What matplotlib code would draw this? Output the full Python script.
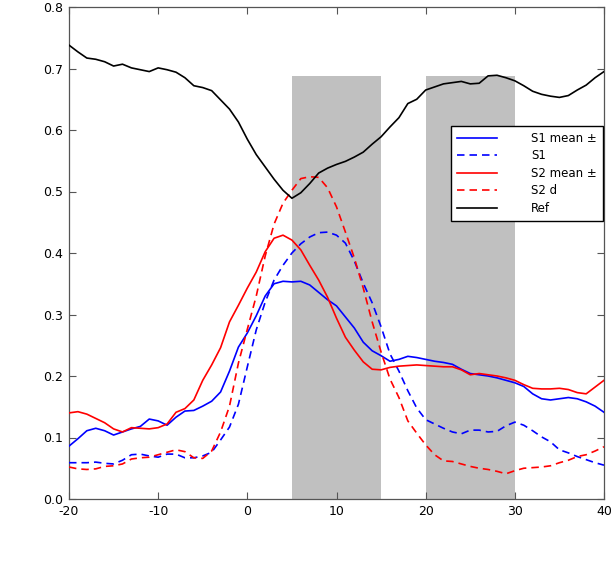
import matplotlib
matplotlib.use("Agg")
import matplotlib.pyplot as plt

# ---- data ----
x = list(range(-20, 41))

black = [0.738, 0.727, 0.717, 0.715, 0.711, 0.704, 0.707, 0.701, 0.698, 0.695,
         0.701, 0.698, 0.694, 0.685, 0.672, 0.669, 0.664, 0.649, 0.634, 0.613,
         0.585, 0.560, 0.540, 0.520, 0.502, 0.489, 0.498, 0.513, 0.530, 0.538,
         0.544, 0.549, 0.556, 0.564, 0.577, 0.589, 0.605, 0.620, 0.643, 0.650,
         0.665, 0.670, 0.675, 0.677, 0.679, 0.675, 0.676, 0.688, 0.689, 0.685,
         0.680, 0.672, 0.663, 0.658, 0.655, 0.653, 0.656, 0.665, 0.673, 0.685,
         0.695]

red_solid = [0.140, 0.142, 0.138, 0.131, 0.124, 0.114, 0.109, 0.116, 0.115, 0.114,
             0.116, 0.122, 0.141, 0.147, 0.161, 0.193, 0.218, 0.246, 0.288, 0.315,
             0.343, 0.369, 0.402, 0.424, 0.429, 0.421, 0.405, 0.380, 0.356, 0.328,
             0.294, 0.263, 0.242, 0.223, 0.211, 0.210, 0.214, 0.216, 0.217, 0.218,
             0.217, 0.216, 0.215, 0.215, 0.210, 0.202, 0.204, 0.202, 0.200, 0.197,
             0.193, 0.186, 0.180, 0.179, 0.179, 0.180, 0.178, 0.173, 0.171, 0.182,
             0.193]

blue_solid = [0.086, 0.098, 0.111, 0.115, 0.111, 0.104, 0.109, 0.114, 0.118, 0.130,
              0.127, 0.120, 0.133, 0.143, 0.144, 0.151, 0.159, 0.174, 0.208, 0.247,
              0.270, 0.298, 0.330, 0.350, 0.354, 0.353, 0.354, 0.348, 0.336, 0.324,
              0.314, 0.296, 0.278, 0.255, 0.241, 0.233, 0.224, 0.227, 0.232, 0.230,
              0.227, 0.224, 0.222, 0.219, 0.211, 0.204, 0.202, 0.200, 0.197, 0.193,
              0.189, 0.183, 0.171, 0.163, 0.161, 0.163, 0.165, 0.163, 0.158, 0.151,
              0.141]

blue_dashed = [0.059, 0.059, 0.059, 0.060, 0.058, 0.057, 0.063, 0.072, 0.073, 0.070,
               0.068, 0.073, 0.073, 0.067, 0.067, 0.070, 0.076, 0.096, 0.117, 0.154,
               0.215, 0.275, 0.320, 0.356, 0.380, 0.400, 0.415, 0.426, 0.433, 0.434,
               0.429, 0.416, 0.387, 0.351, 0.319, 0.280, 0.236, 0.208, 0.176, 0.148,
               0.129, 0.122, 0.115, 0.109, 0.106, 0.112, 0.112, 0.109, 0.110, 0.119,
               0.125, 0.120, 0.111, 0.101, 0.093, 0.080, 0.075, 0.069, 0.064, 0.059,
               0.055]

red_dashed = [0.052, 0.049, 0.048, 0.049, 0.053, 0.054, 0.057, 0.065, 0.067, 0.068,
              0.072, 0.076, 0.080, 0.077, 0.067, 0.066, 0.078, 0.109, 0.151, 0.221,
              0.276, 0.330, 0.395, 0.447, 0.481, 0.502, 0.521, 0.524, 0.523, 0.506,
              0.475, 0.434, 0.392, 0.343, 0.288, 0.239, 0.195, 0.165, 0.127, 0.107,
              0.088, 0.072, 0.062, 0.061, 0.057, 0.053, 0.050, 0.048, 0.045, 0.041,
              0.046, 0.050, 0.051, 0.052, 0.054, 0.059, 0.063, 0.069, 0.072, 0.078,
              0.085]

shade_regions = [(5, 15), (20, 30)]
shade_top = 0.688

legend_labels = ["S1 mean ±", "S1", "S2 mean ±", "S2 d", "Ref"]
x_ticks = [-20, -10, 0, 10, 20, 30, 40]
y_ticks = [0.0, 0.1, 0.2, 0.3, 0.4, 0.5, 0.6, 0.7, 0.8]

# ---- figure ----
fig = plt.figure(figsize=(6.16, 5.62), dpi=100)
ax = fig.add_axes([69 / 616, 1 - 499 / 562, (604 - 69) / 616, (499 - 7) / 562])

for (a, b) in shade_regions:
    ax.fill_between([a, b], 0, shade_top, color="#c0c0c0", linewidth=0, zorder=1)

lw = 1.2
dash = (0, (4.5, 3))
ax.plot(x, blue_solid, color="#0000ff", lw=lw, label=legend_labels[0], zorder=3)
ax.plot(x, blue_dashed, color="#0000ff", lw=lw, ls=dash, label=legend_labels[1], zorder=3)
ax.plot(x, red_solid, color="#ff0000", lw=lw, label=legend_labels[2], zorder=3)
ax.plot(x, red_dashed, color="#ff0000", lw=lw, ls=dash, label=legend_labels[3], zorder=3)
ax.plot(x, black, color="black", lw=lw, label=legend_labels[4], zorder=3)

ax.set_xlim(-20, 40)
ax.set_ylim(0, 0.8)
ax.set_xticks(x_ticks)
ax.set_xticklabels([str(v) for v in x_ticks])
ax.set_yticks(y_ticks)
ax.set_yticklabels([f"{v:.1f}" for v in y_ticks])
ax.tick_params(direction="in", top=True, right=True, length=5, width=0.8,
               color="#555555", labelsize=9, pad=4)
for s in ax.spines.values():
    s.set_color("#555555")
    s.set_linewidth(0.9)

leg = ax.legend(loc="upper right", bbox_to_anchor=(0.998, (499 - 126) / 492),
                borderaxespad=0, fontsize=8.5, handlelength=3.4, handletextpad=2.9,
                labelspacing=0.38, borderpad=0.5, fancybox=False, framealpha=1,
                edgecolor="black")
leg.get_frame().set_linewidth(1.0)
leg.set_zorder(5)

fig.savefig("out.png", dpi=100)
